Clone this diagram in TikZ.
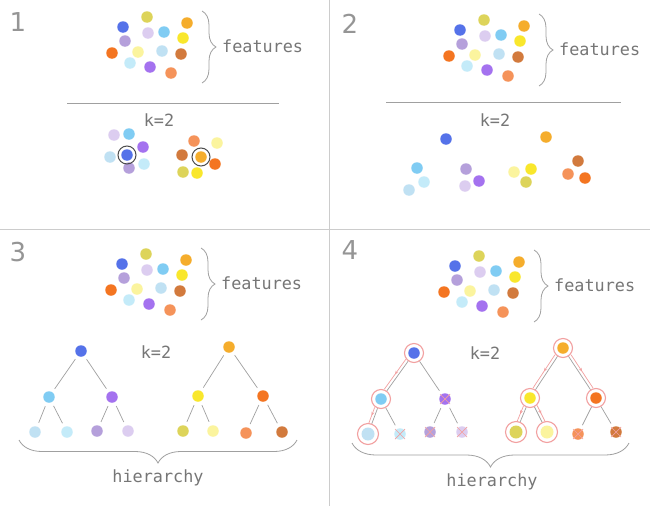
\documentclass[tikz,border=0pt]{standalone}
\usepackage{fontspec}
\setmainfont{DejaVu Sans}
\newfontfamily\monof{DejaVu Sans Mono}
\usetikzlibrary{calc,decorations.pathreplacing,decorations.markings,arrows.meta}
\definecolor{cBlue}{HTML}{5572E9}
\definecolor{cOlive}{HTML}{DDD45A}
\definecolor{cLav}{HTML}{DCCDF0}
\definecolor{cSky}{HTML}{80CCF3}
\definecolor{cGold}{HTML}{F5AD2C}
\definecolor{cPG}{HTML}{B5A0DB}
\definecolor{cYel}{HTML}{F9E72C}
\definecolor{cOra}{HTML}{F47521}
\definecolor{cLY}{HTML}{FBF49E}
\definecolor{cLB}{HTML}{C0E1F3}
\definecolor{cBrn}{HTML}{D27A3D}
\definecolor{cPB}{HTML}{C4EBF9}
\definecolor{cPur}{HTML}{A472EF}
\definecolor{cSal}{HTML}{F5935A}
\definecolor{cTxt}{HTML}{767676}
\definecolor{cNum}{HTML}{959595}
\definecolor{cLine}{HTML}{A0A0A0}
\definecolor{cFrame}{HTML}{CCCCCC}
\definecolor{cPink}{HTML}{F2A0A0}
\newcommand\featcl[3]{%
 \begin{scope}[shift={(#2,#3)}]
 \node[fdot=cBlue] (#1blue) at (0,0) {};
 \node[fdot=cOlive] (#1olive) at (24,-10) {};
 \node[fdot=cLav] (#1lav) at (25,6) {};
 \node[fdot=cSky] (#1sky) at (41,5) {};
 \node[fdot=cGold] (#1gold) at (64,-4) {};
 \node[fdot=cPG] (#1pg) at (2,14) {};
 \node[fdot=cYel] (#1yel) at (60,11) {};
 \node[fdot=cOra] (#1ora) at (-11,26) {};
 \node[fdot=cLY] (#1ly) at (15,25) {};
 \node[fdot=cLB] (#1lb) at (39,24) {};
 \node[fdot=cBrn] (#1brn) at (58,27) {};
 \node[fdot=cPB] (#1pb) at (7,36) {};
 \node[fdot=cPur] (#1pur) at (27,40) {};
 \node[fdot=cSal] (#1sal) at (48,46) {};
 \coordinate (#1bt) at (79,-16);
 \coordinate (#1bb) at (79,56);
 \draw[brc, decoration={brace,amplitude=14pt}] (#1bt) -- (#1bb);
 \node[lbl, anchor=west] (#1feat) at (99,19) {features};
 \end{scope}}
\newcommand\pinkarr[3]{%
 \draw[pedge] ($(#1)!10pt!(#2)!3pt!#3:(#2)$) -- ($(#2)!10pt!(#1)!3pt!-#3:(#1)$);}
\newcommand\xmk[1]{%
 \draw[xm] ([shift={(-5,-5)}]#1.center) -- ([shift={(5,5)}]#1.center)
           ([shift={(-5,5)}]#1.center) -- ([shift={(5,-5)}]#1.center);}
\begin{document}
\begin{tikzpicture}[x=1pt,y=-1pt,
  fdot/.style={circle,inner sep=0pt,minimum size=11.5pt,fill=#1,draw=none},
  bigdot/.style={circle,inner sep=0pt,minimum size=13pt,fill=#1,draw=none},
  lbl/.style={font=\monof\fontsize{16.8}{17}\selectfont,text=cTxt,inner sep=0pt},
  num/.style={font=\fontsize{26}{26}\selectfont,text=cNum,inner sep=0pt},
  brc/.style={draw=cLine,line width=0.8pt,decorate},
  edg/.style={draw=cLine,line width=0.7pt,shorten <=4pt,shorten >=4pt},
  ring/.style={draw=#1,line width=1pt},
  pring/.style={draw=cPink,line width=1.1pt},
  pedge/.style={draw=cPink,line width=0.7pt,postaction={decorate},
    decoration={markings,mark=at position 0.5 with {\arrow[cPink]{Stealth[length=3.5pt,width=3pt]}}}},
  xm/.style={draw=cPink,line width=0.7pt},
  frame/.style={draw=cFrame,line width=1pt}]
\useasboundingbox (0,0) rectangle (650,506);
\fill[white] (0,0) rectangle (650,506);
\draw[frame] (329.5,0) -- (329.5,506);
\draw[frame] (0,229.5) -- (650,229.5);

% ---------------- Panel 1
\node[num] (n1) at (18,22) {1};
\featcl{p}{123}{27}
\coordinate (l1a) at (67,103);
\coordinate (l1b) at (279,103);
\draw[draw=cLine,line width=0.8pt] (l1a) -- (l1b);
\node[lbl] (k1) at (159,120) {k=2};
\node[fdot=cLav] (q1a) at (114,135) {};
\node[fdot=cSky] (q1b) at (129,134) {};
\node[fdot=cPur] (q1c) at (143,147) {};
\node[fdot=cLB] (q1d) at (110,157) {};
\node[fdot=cBlue] (q1e) at (127,155) {};
\node[fdot=cPB] (q1f) at (144,164) {};
\node[fdot=cPG] (q1g) at (129,168) {};
\node[fdot=cSal] (q1h) at (194,141) {};
\node[fdot=cLY] (q1i) at (217,143) {};
\node[fdot=cBrn] (q1j) at (182,155) {};
\node[fdot=cGold] (q1k) at (201,157) {};
\node[fdot=cOra] (q1l) at (215,164) {};
\node[fdot=cOlive] (q1m) at (183,172) {};
\node[fdot=cYel] (q1n) at (197,173) {};
\draw[ring=black!70] (q1e) circle (9pt);
\draw[ring=black!70] (q1k) circle (9pt);

% ---------------- Panel 2
\node[num] (n2) at (350,24) {2};
\featcl{r}{460}{30}
\coordinate (l2a) at (386,102);
\coordinate (l2b) at (621,102);
\draw[draw=cLine,line width=0.8pt] (l2a) -- (l2b);
\node[lbl] (k2) at (495,120) {k=2};
\node[fdot=cBlue] (s2a) at (446,139) {};
\node[fdot=cGold] (s2b) at (546,137) {};
\node[fdot=cSky] (s2c) at (417,168) {};
\node[fdot=cPB] (s2d) at (424,182) {};
\node[fdot=cLB] (s2e) at (409,190) {};
\node[fdot=cPG] (s2f) at (466,169) {};
\node[fdot=cLav] (s2g) at (465,186) {};
\node[fdot=cPur] (s2h) at (479,181) {};
\node[fdot=cLY] (s2i) at (514,172) {};
\node[fdot=cYel] (s2j) at (531,169) {};
\node[fdot=cOlive] (s2k) at (526,182) {};
\node[fdot=cBrn] (s2l) at (578,161) {};
\node[fdot=cSal] (s2m) at (568,174) {};
\node[fdot=cOra] (s2n) at (585,178) {};

% ---------------- Panel 3
\node[num] (n3) at (18,252) {3};
\featcl{t}{122}{264}
\node[lbl] (k3) at (156,352) {k=2};
\node[fdot=cBlue] (L3r) at (81,351) {};
\node[fdot=cSky] (L3a) at (49,397) {};
\node[fdot=cPur] (L3b) at (112,397) {};
\node[fdot=cLB] (L3aa) at (35,432) {};
\node[fdot=cPB] (L3ab) at (67,432) {};
\node[fdot=cPG] (L3ba) at (97,431) {};
\node[fdot=cLav] (L3bb) at (128,431) {};
\node[fdot=cGold] (R3r) at (229,347) {};
\node[fdot=cYel] (R3a) at (198,396) {};
\node[fdot=cOra] (R3b) at (263,396) {};
\node[fdot=cOlive] (R3aa) at (183,431) {};
\node[fdot=cLY] (R3ab) at (213,431) {};
\node[fdot=cSal] (R3ba) at (246,433) {};
\node[fdot=cBrn] (R3bb) at (282,432) {};
\foreach \p/\c in {L3r/L3a,L3r/L3b,L3a/L3aa,L3a/L3ab,L3b/L3ba,L3b/L3bb,
                   R3r/R3a,R3r/R3b,R3a/R3aa,R3a/R3ab,R3b/R3ba,R3b/R3bb}
  \draw[edg] (\p) -- (\c);
\coordinate (h3a) at (297,440);
\coordinate (h3b) at (19,440);
\draw[brc, decoration={brace,amplitude=23pt}] (h3a) -- (h3b);
\node[lbl] (hier3) at (158,478) {hierarchy};

% ---------------- Panel 4
\node[num] (n4) at (350,250) {4};
\featcl{u}{455}{266}
\node[lbl] (k4) at (485,353) {k=2};
\node[fdot=cBlue] (L4r) at (414,353) {};
\node[fdot=cSky] (L4a) at (381,399) {};
\node[fdot=cPur] (L4b) at (445,399) {};
\node[bigdot=cLB] (L4aa) at (368,434) {};
\node[fdot=cPB] (L4ab) at (400,434) {};
\node[fdot=cPG] (L4ba) at (430,432) {};
\node[fdot=cLav] (L4bb) at (462,432) {};
\node[fdot=cGold] (R4r) at (563,348) {};
\node[fdot=cYel] (R4a) at (530,398) {};
\node[fdot=cOra] (R4b) at (596,398) {};
\node[bigdot=cOlive] (R4aa) at (516,432) {};
\node[bigdot=cLY] (R4ab) at (547,432) {};
\node[fdot=cSal] (R4ba) at (578,434) {};
\node[fdot=cBrn] (R4bb) at (616,432) {};
\foreach \p/\c in {L4r/L4a,L4r/L4b,L4a/L4aa,L4a/L4ab,L4b/L4ba,L4b/L4bb,
                   R4r/R4a,R4r/R4b,R4a/R4aa,R4a/R4ab,R4b/R4ba,R4b/R4bb}
  \draw[edg] (\p) -- (\c);
\foreach \n in {L4r,L4a,R4r,R4a,R4b}
  \draw[pring] (\n) circle (9.5pt);
\foreach \n in {L4aa,R4aa,R4ab}
  \draw[pring] (\n) circle (10.5pt);
\pinkarr{L4r}{L4a}{-90}
\pinkarr{L4a}{L4aa}{-90}
\pinkarr{R4r}{R4a}{-90}
\pinkarr{R4r}{R4b}{90}
\pinkarr{R4a}{R4aa}{-90}
\pinkarr{R4a}{R4ab}{90}
\xmk{L4b}
\xmk{L4ab}
\xmk{L4ba}
\xmk{L4bb}
\xmk{R4ba}
\xmk{R4bb}
\coordinate (h4a) at (629,443);
\coordinate (h4b) at (352,443);
\draw[brc, decoration={brace,amplitude=24pt}] (h4a) -- (h4b);
\node[lbl] (hier4) at (492,482) {hierarchy};
\end{tikzpicture}
\end{document}
